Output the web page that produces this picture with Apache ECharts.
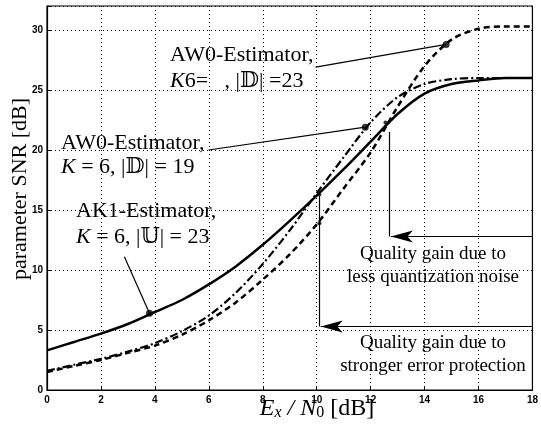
<!DOCTYPE html>
<html>
<head>
<meta charset="utf-8">
<script src="https://cdn.jsdelivr.net/npm/echarts@6/dist/echarts.min.js"></script>
<style>
  html, body { margin: 0; padding: 0; background: #fff; }
  #chart { width: 541px; height: 430px; }
</style>
</head>
<body>
<div id="chart"></div>
<script>
// x values (Ex/N0 in dB)
const snrX = [0, 1, 2, 3, 4, 5, 6, 7, 8, 9, 10, 11, 12, 13, 14, 15, 16, 17, 18];
// AK1-Estimator, K=6, |U|=23 (solid)
const ak1 = [3.3, 4.0, 4.7, 5.5, 6.5, 7.5, 8.8, 10.3, 12.1, 14.1, 16.2, 18.4, 20.7, 23.0, 24.7, 25.5, 25.8, 26.0, 26.0];
// AW0-Estimator, K=6, |D|=19 (dash-dot)
const aw0d19 = [1.6, 2.1, 2.6, 3.2, 3.9, 4.9, 6.2, 8.1, 10.5, 13.3, 16.4, 19.4, 22.3, 24.4, 25.5, 25.9, 26.0, 26.0, 26.0];
// AW0-Estimator, K=6, |D|=23 (dashed)
const aw0d23 = [1.5, 2.0, 2.5, 3.1, 3.7, 4.6, 5.8, 7.3, 9.2, 11.3, 13.8, 16.8, 19.8, 23.6, 27.0, 29.2, 30.1, 30.3, 30.3];
// highlighted points
const bigDots = [[3.8, 6.4], [11.8, 21.9], [14.8, 28.8]];
const smallDots = [[10.1, 16.3], [10.1, 13.9], [12.55, 22.3]];

const chart = echarts.init(document.getElementById('chart'));
const serif = '"Liberation Serif", "DejaVu Serif", serif';
const black = '#000';

function pairs(ys) { return snrX.map((x, i) => [x, ys[i]]); }
function seg(a, b, arrow) {
  return [{ coord: a, symbol: 'none' }, { coord: b, symbol: arrow ? 'arrow' : 'none', symbolSize: arrow ? [9, 22] : 0 }];
}
const tickFont = { color: black, fontSize: 10, fontWeight: 'bold', fontFamily: '"Liberation Sans", Arial, sans-serif' };

const option = {
  animation: false,
  grid: { left: 47, right: 4, top: 6, bottom: 40, show: true, borderColor: black, borderWidth: 1.2, backgroundColor: 'transparent' },
  xAxis: {
    type: 'value', min: 0, max: 18, interval: 2,
    axisLine: { show: true, onZero: false, lineStyle: { color: black, width: 1.2 } },
    axisTick: { inside: true, length: 4, lineStyle: { color: black } },
    axisLabel: Object.assign({ margin: 5 }, tickFont),
    splitLine: { show: true, lineStyle: { color: black, type: [1, 3], width: 1 } }
  },
  yAxis: {
    type: 'value', min: 0, max: 32, interval: 5,
    axisLine: { show: true, lineStyle: { color: black, width: 1.2 } },
    axisTick: { inside: true, length: 4, lineStyle: { color: black } },
    axisLabel: Object.assign({ margin: 4, formatter: v => (v % 5 === 0 ? String(v) : '') }, tickFont),
    splitLine: { show: true, lineStyle: { color: black, type: [1, 3], width: 1 } }
  },
  series: [
    {
      name: 'AK1', type: 'line', data: pairs(ak1), smooth: 0.3, symbol: 'none',
      lineStyle: { color: black, width: 2.5 },
      markLine: {
        silent: true, symbol: 'none', label: { show: false },
        lineStyle: { color: black, width: 1.2, type: 'solid' },
        data: [
          seg([9.96, 26.9], [14.8, 28.8], false),
          seg([5.99, 20.0], [11.8, 21.9], false),
          seg([2.87, 11.1], [3.8, 6.4], false),
          seg([12.7, 21.5], [12.7, 12.8], false),
          seg([18, 12.8], [12.75, 12.8], true),
          seg([10.1, 16.2], [10.1, 5.3], false),
          seg([18, 5.3], [10.15, 5.3], true)
        ]
      }
    },
    {
      name: 'AW0 D19', type: 'line', data: pairs(aw0d19), smooth: 0.3, symbol: 'none',
      lineStyle: { color: black, width: 2.2, type: [8, 3, 2, 3] }
    },
    {
      name: 'AW0 D23', type: 'line', data: pairs(aw0d23), smooth: 0.3, symbol: 'none',
      lineStyle: { color: black, width: 2.5, type: [6, 4] }
    },
    { name: 'dots', type: 'scatter', data: bigDots, symbolSize: 7, itemStyle: { color: black } },
    { name: 'small dots', type: 'scatter', data: smallDots, symbolSize: 4, itemStyle: { color: black } }
  ],
  graphic: [
    { type: 'text', left: 170, top: 44, style: { text: 'AW0-Estimator,', font: '22px ' + serif, fill: black } },
    { type: 'text', left: 170, top: 70, style: { rich: {
        i: { font: 'italic 22px ' + serif, fill: black }, n: { font: '22px ' + serif, fill: black } },
        text: '{i|K}{n|6=   , |𝔻| =23}' } },
    { type: 'text', left: 61, top: 132, style: { text: 'AW0-Estimator,', font: '22px ' + serif, fill: black } },
    { type: 'text', left: 61, top: 156, style: { rich: {
        i: { font: 'italic 22px ' + serif, fill: black }, n: { font: '22px ' + serif, fill: black } },
        text: '{i|K}{n| = 6, |𝔻| = 19}' } },
    { type: 'text', left: 76, top: 200, style: { text: 'AK1-Estimator,', font: '22px ' + serif, fill: black } },
    { type: 'text', left: 76, top: 226, style: { rich: {
        i: { font: 'italic 22px ' + serif, fill: black }, n: { font: '22px ' + serif, fill: black } },
        text: '{i|K}{n| = 6, |𝕌| = 23}' } },
    { type: 'text', x: 433, y: 254, style: { text: 'Quality gain due to', font: '19px ' + serif, fill: black, align: 'center', verticalAlign: 'middle' } },
    { type: 'text', x: 433, y: 277, style: { text: 'less quantization noise', font: '19px ' + serif, fill: black, align: 'center', verticalAlign: 'middle' } },
    { type: 'text', x: 433, y: 343, style: { text: 'Quality gain due to', font: '19px ' + serif, fill: black, align: 'center', verticalAlign: 'middle' } },
    { type: 'text', x: 433, y: 366, style: { text: 'stronger error protection', font: '19px ' + serif, fill: black, align: 'center', verticalAlign: 'middle' } },
    { type: 'text', x: 20, y: 189, rotation: Math.PI / 2,
      style: { text: 'parameter SNR [dB]', font: '22px ' + serif, fill: black, align: 'center', verticalAlign: 'middle' } },
    { type: 'text', x: 317, y: 409, style: { rich: {
        i: { font: 'italic 24px ' + serif, fill: black },
        s: { font: '16px ' + serif, fill: black, verticalAlign: 'bottom', padding: [8, 0, 0, 0] },
        si: { font: 'italic 16px ' + serif, fill: black, verticalAlign: 'bottom', padding: [8, 0, 0, 0] },
        n: { font: '24px ' + serif, fill: black } },
        text: '{i|E}{si|x}{i| / N}{s|0}{n| [dB]}', align: 'center', verticalAlign: 'middle' } }
  ]
};
chart.setOption(option);
</script>
</body>
</html>
